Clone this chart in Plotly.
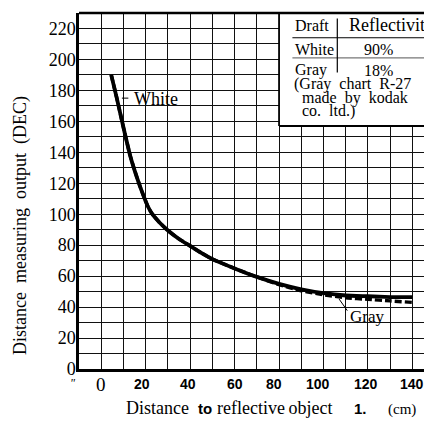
import plotly.graph_objects as go

# ---- data ----
white_x = [4.5, 7, 10, 13, 16, 19, 21, 23, 26, 30, 35, 40, 45, 50, 60, 70, 80, 90, 100, 110, 120, 130, 140]
white_y = [190, 175, 156, 138, 124, 112, 105, 100, 95, 89.5, 84, 79.5, 75, 71, 65, 59.5, 55, 51.5, 49, 47.5, 47, 46.5, 46.5]

gray_x = [4.5, 7, 10, 13, 16, 19, 21, 23, 26, 30, 35, 40, 45, 50, 60, 70, 80, 90, 100, 110, 120, 130, 140]
gray_y = [190, 175, 156, 138, 124, 112, 105, 100, 95, 89.5, 84, 79.5, 75, 71, 65, 59.5, 54.5, 50.5, 48, 46, 45, 44, 43]

x_tick_text = ["0", "20", "40", "60", "80", "100", "120", "140"]
x_tick_pos = [0, 18.4, 38.9, 60, 77.6, 97.6, 119, 139.6]

y_tick_vals = [0, 20, 40, 60, 80, 100, 120, 140, 160, 180, 200, 220]

table_header = ["Draft", "Reflectivity"]
table_drafts = ["White", "Gray"]
table_reflect = ["90%", "18%"]
table_note = ["(Gray chart R-27", "made by kodak", "co. ltd.)"]

SERIF = "Liberation Serif"
SANS = "Liberation Sans"

# page has an 8px body margin: lay out in page pixels, offset by OFF
OFF = 8
W, H = 432 - OFF, 423 - OFF
ML, MR, MT, MB = 79 - OFF, 0, 13 - OFF, H - (369 - OFF)
PW, PH = W - ML - MR, H - MT - MB

def px_x(px):
    return (px - OFF - ML) / PW

def px_y(py):
    return (H - MB - (py - OFF)) / PH

fig = go.Figure()
fig.add_trace(go.Scatter(x=gray_x, y=gray_y, mode="lines", name="Gray",
                         line=dict(color="black", width=3.4, dash="7px,3px",
                                   shape="spline", smoothing=0.5)))
fig.add_trace(go.Scatter(x=white_x, y=white_y, mode="lines", name="White",
                         line=dict(color="black", width=3.8, shape="spline", smoothing=0.5)))

fig.update_layout(
    width=W, height=H,
    margin=dict(l=ML, r=MR, t=MT, b=MB, autoexpand=False),
    paper_bgcolor="white", plot_bgcolor="white",
    showlegend=False,
    xaxis=dict(range=[-10, 148.8], dtick=10, tick0=0, showgrid=True,
               gridcolor="#111", gridwidth=1.2, showticklabels=False,
               zeroline=False, showline=True, linecolor="black", linewidth=2.5,
               mirror=False, ticks="", automargin=False),
    yaxis=dict(range=[0, 230], showgrid=True,
               gridcolor="#111", gridwidth=1.2,
               tickvals=list(range(0, 231, 10)),
               ticktext=[str(v) if v in y_tick_vals else "" for v in range(0, 231, 10)],
               tickfont=dict(family=SERIF, size=18, color="black"),
               zeroline=False, showline=True, linecolor="black", linewidth=2.5,
               ticks="", ticklabelstandoff=-3, automargin=False),
)

shapes = []
# legend table box
shapes.append(dict(type="rect", xref="x", yref="y", x0=80, x1=150, y0=157, y1=230,
                   fillcolor="white", line=dict(width=0), layer="above"))
shapes.append(dict(type="line", xref="x", yref="y", x0=80, x1=150, y0=157, y1=157,
                   line=dict(color="black", width=2), layer="above"))
shapes.append(dict(type="line", xref="x", yref="y", x0=80, x1=80, y0=157, y1=230,
                   line=dict(color="black", width=1.8), layer="above"))
# top border
shapes.append(dict(type="line", xref="paper", yref="paper", x0=0, x1=1, y0=1, y1=1,
                   line=dict(color="black", width=2.5), layer="above"))
# table rules
shapes.append(dict(type="line", xref="x", yref="y", x0=86, x1=150, y0=214, y1=214,
                   line=dict(color="black", width=1.2), layer="above"))
shapes.append(dict(type="line", xref="x", yref="y", x0=86, x1=150, y0=201, y1=201,
                   line=dict(color="#777", width=1.2), layer="above"))
shapes.append(dict(type="line", xref="x", yref="y", x0=106.2, x1=106.2, y0=191.5, y1=226.5,
                   line=dict(color="black", width=1.2), layer="above"))
# leader marks
shapes.append(dict(type="line", xref="x", yref="y", x0=9.3, x1=12.2, y0=175, y1=175,
                   line=dict(color="black", width=1), layer="above"))
shapes.append(dict(type="line", xref="x", yref="y", x0=107, x1=110.7, y0=45.2, y1=37.7,
                   line=dict(color="black", width=1), layer="above"))
fig.update_layout(shapes=shapes)

ann = []
def txt(x, y, s, size=16, family=SERIF, xanchor="left"):
    ann.append(dict(x=x, y=y, xref="x", yref="y", text=s,
                    showarrow=False, xanchor=xanchor, yanchor="middle",
                    font=dict(family=family, size=size, color="black")))

def ptxt(pxx, pxy, s, size=18, family=SERIF, xanchor="left", angle=0):
    ann.append(dict(x=px_x(pxx), y=px_y(pxy), xref="paper", yref="paper", text=s,
                    showarrow=False, xanchor=xanchor, yanchor="middle", textangle=angle,
                    font=dict(family=family, size=size, color="black")))

# table text
txt(86.2, 222, table_header[0])
txt(110.6, 222, table_header[1], size=18)
txt(86.2, 206.3, table_drafts[0])
txt(124.8, 206.3, table_reflect[0], xanchor="center")
txt(86.2, 193, table_drafts[1])
txt(124.8, 193, table_reflect[1], xanchor="center")
txt(86.0, 184.4, table_note[0].replace(" ", "\u2002"))
txt(89.2, 175.3, table_note[1].replace(" ", "\u2002"))
txt(89.2, 166.5, table_note[2].replace(" ", "\u2002"))

# curve labels
txt(13.8, 174.7, "White", size=18)
txt(111.0, 34, "Gray", size=17)

# x tick labels
for p, t in zip(x_tick_pos, x_tick_text):
    if t == "0":
        ann.append(dict(x=p, y=px_y(384), xref="x", yref="paper", text=t, showarrow=False,
                        xanchor="center", yanchor="middle",
                        font=dict(family=SERIF, size=19, color="black")))
    else:
        ann.append(dict(x=p, y=px_y(384), xref="x", yref="paper", text="<b>%s</b>" % t,
                        showarrow=False, xanchor="center", yanchor="middle",
                        font=dict(family=SANS, size=14, color="black")))
ptxt(72.7, 383, "<i>\"</i>", size=12, xanchor="center")

# x axis title (mixed fonts, as in the original)
ptxt(124, 408, "Distance", size=18)
ptxt(196, 408, "<b>to</b>", size=15, family=SANS)
ptxt(215, 408, "reflective\u2009object", size=18)
ptxt(352, 408, "<b>1.</b>", size=15, family=SANS)
ptxt(386, 409, "(cm)", size=15)

# y axis title
ptxt(20, 226, "Distance\u2002measuring\u2002output\u2002(DEC)", size=18, xanchor="center", angle=-90)

fig.update_layout(annotations=ann)
fig.write_html("out.html")
